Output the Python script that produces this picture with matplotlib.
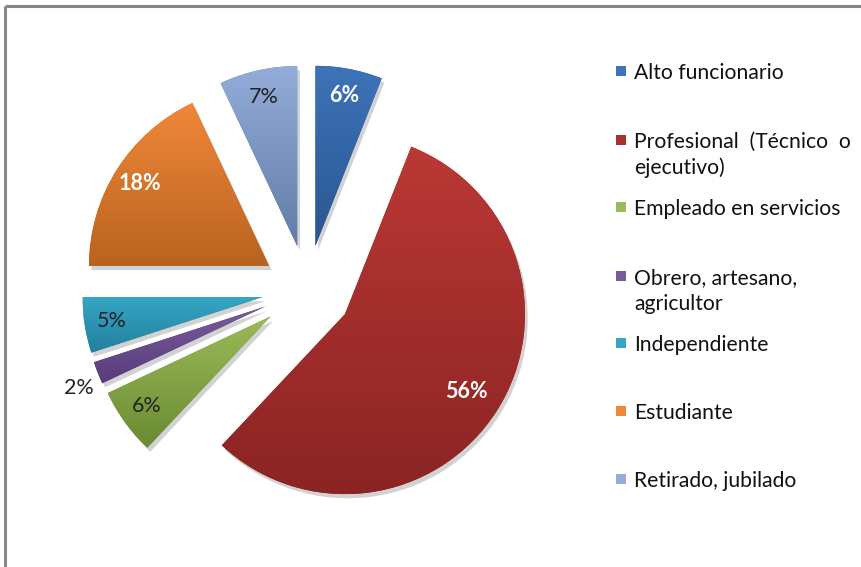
import numpy as np
import matplotlib.pyplot as plt
import matplotlib.patheffects as pe
from matplotlib.colors import LinearSegmentedColormap
from matplotlib.patches import Rectangle

plt.rcParams['font.family'] = ['Lato', 'DejaVu Sans']

# Datos
categorias = ["Alto funcionario", "Profesional  (Técnico  o\nejecutivo)", "Empleado en servicios",
              "Obrero, artesano,\nagricultor", "Independiente", "Estudiante", "Retirado, jubilado"]
porcentajes = [6, 56, 6, 2, 5, 18, 7]
etiquetas = ["6%", "56%", "6%", "2%", "5%", "18%", "7%"]

# degradado (arriba claro, abajo oscuro) de cada porcion
col_claro = ["#3d73b9", "#bb3835", "#9bbb59", "#7a5c9c", "#37a5c4", "#f0883a", "#93acd8"]
col_oscuro = ["#2a5690", "#8a2423", "#6a8a33", "#583c7c", "#21809e", "#b9621f", "#627ca8"]
col_texto = ["white", "white", "#222222", "#222222", "#222222", "white", "#222222"]
negrita = [True, True, False, False, False, True, False]

fig = plt.figure(figsize=(8.61, 5.67), dpi=100)
ax = fig.add_axes([0, 0, 1, 1])

centro = (307, 277)
radio = 180
wedges, _ = ax.pie(porcentajes, startangle=90, counterclock=False, center=centro,
                   radius=radio, explode=[45] * len(porcentajes))

for i, w in enumerate(wedges):
    w.set_facecolor(col_oscuro[i])
    w.set_edgecolor("none")
    w.set_path_effects([pe.SimplePatchShadow(offset=(2, -3), shadow_rgbFace="#808080", alpha=0.35),
                        pe.Normal()])
    # degradado vertical recortado a la porcion
    x0, y0, x1, y1 = w.get_path().get_extents(w.get_patch_transform()).extents
    cmap = LinearSegmentedColormap.from_list("g%d" % i, [col_oscuro[i], col_claro[i]])
    grad = np.linspace(0, 1, 256).reshape(-1, 1)
    im = ax.imshow(grad, cmap=cmap, origin="lower", aspect="auto",
                   extent=(x0, x1, y0, y1), zorder=w.get_zorder() + 0.1)
    im.set_clip_path(w)

    # etiqueta de porcentaje
    th = np.deg2rad((w.theta1 + w.theta2) / 2)
    d = 0.85 if porcentajes[i] != 56 else 0.8
    if etiquetas[i] == "2%":
        d = 1.13
        th += np.deg2rad(2)
    cx, cy = w.center
    ax.text(cx + d * radio * np.cos(th), cy + d * radio * np.sin(th), etiquetas[i],
            ha="center", va="center", fontsize=15.5, color=col_texto[i],
            fontweight="bold" if negrita[i] else "normal", zorder=5)

ax.set_xlim(0, 861)
ax.set_ylim(0, 567)
ax.set_aspect("equal")
ax.axis("off")

# leyenda
ys = [71, 140, 207, 276, 343, 411, 479]
for i, cat in enumerate(categorias):
    y = 567 - ys[i]
    ax.add_patch(Rectangle((616, y - 5), 10, 10, facecolor=col_claro[i] if i != 1 else "#a8302e",
                           edgecolor="none"))
    for k, linea in enumerate(cat.split("\n")):
        ax.text(634, y - 26 * k, linea, ha="left", va="center_baseline", fontsize=15.2,
                color="#111111")

# marco
ax.plot([5, 861], [561, 561], color="#878787", lw=2.2, solid_capstyle="butt")
ax.plot([5, 5], [0, 561], color="#878787", lw=2.2, solid_capstyle="butt")

fig.savefig("out.png", dpi=100)
